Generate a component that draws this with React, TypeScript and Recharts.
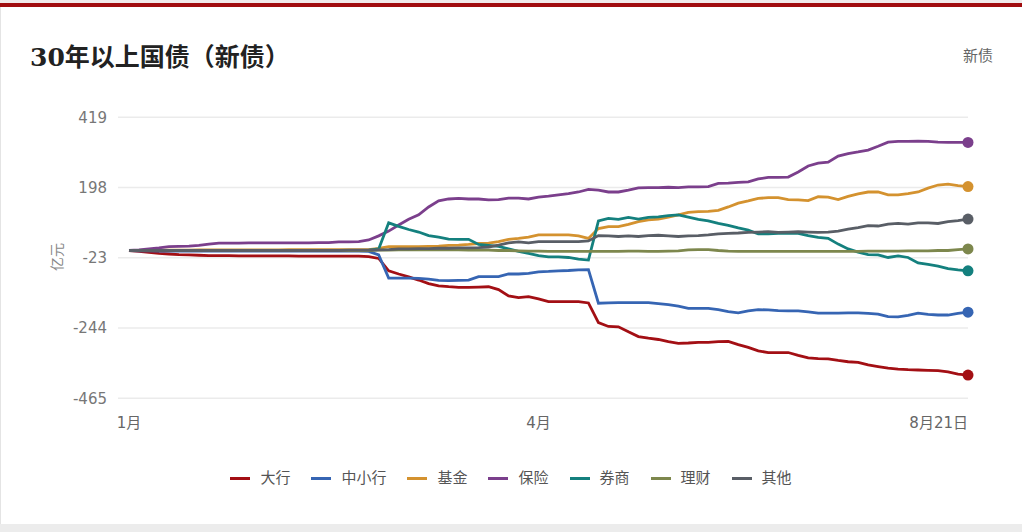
import React from 'react';
import { LineChart, Line, XAxis, YAxis, CartesianGrid } from 'recharts';

// 30年以上国债（新债）各类机构累计净买入，单位：亿元
const seriesNames = ['大行', '中小行', '基金', '保险', '券商', '理财', '其他'];
const seriesColors = ['#a30f14', '#3665b3', '#d4922f', '#7b3f8c', '#14807e', '#7d874d', '#595e66'];

const bigBanks = [
  0, -3, -6, -9, -11, -13, -14, -15, -16, -16,
  -16, -17, -17, -17, -17, -17, -17, -18, -18, -18, -18, -18, -18, -18, -19,
  -25,
  -64, -74, -83, -93, -104, -111, -114, -116, -116, -115, -114, -123, -143, -148, -145, -152, -161, -161, -161, -161, -165,
  -227, -239, -240, -256, -271, -276, -280, -287, -292, -291, -289, -289, -287, -286, -296, -305, -316, -321, -321, -321,
  -330, -338, -340, -341, -346, -350, -352, -360, -365, -370, -373, -375, -376, -377, -378, -382, -389, -392,
];
const smallBanks = [
  0, -1, -1, -2, -2, -2, -2, -2, -2, -2, -2, -2, -2, -2, -2, -2, -2, -2, -2, -2, -2, -2, -2, -2, -3,
  -14,
  -87, -87, -87, -88, -90, -94, -95, -94, -93, -82, -82, -82, -74, -74, -72, -67, -66, -64, -63, -61, -60,
  -166, -165, -164, -164, -164, -164, -167, -170, -175, -182, -182, -182, -186, -192, -196, -190, -186, -187, -189, -190,
  -190, -193, -197, -197, -197, -196, -196, -198, -200, -208, -209, -204, -197, -201, -203, -203, -198, -194,
];
const funds = [
  0, 0, 1, 1, 1, 1, 1, 2, 2, 2, 2, 2, 2, 2, 2, 2, 3, 3, 3, 3, 3, 3, 3, 3, 3,
  7,
  12, 12, 12, 12, 13, 14, 16, 17, 19, 22, 23, 28, 35, 38, 42, 49, 49, 49, 49, 46, 38,
  69, 75, 75, 82, 91, 96, 99, 105, 112, 120, 122, 123, 126, 137, 149, 156, 164, 166, 166, 160,
  159, 157, 169, 168, 160, 170, 178, 184, 184, 175, 175, 179, 184, 196, 206, 209, 204, 201,
];
const insurance = [
  0, 2, 5, 8, 12, 13, 14, 16, 20, 23, 23, 23, 24, 24, 24, 24, 24, 24, 24, 25, 25, 27, 27, 28, 33,
  46,
  61, 80, 98, 112, 137, 156, 162, 164, 162, 162, 159, 160, 165, 165, 162, 168, 171, 175, 179, 184, 192,
  190, 184, 184, 190, 197, 198, 198, 199, 198, 200, 200, 201, 211, 212, 214, 216, 225, 230, 230, 231,
  247, 266, 275, 278, 297, 305, 310, 316, 328, 341, 343, 343, 344, 343, 341, 340, 340, 340,
];
const brokers = [
  0, 0, 0, 0, 0, 0, 0, 0, 0, 0, 0, 0, 0, 0, 0, 0, 0, 0, 0, 0, 0, 0, 0, 0, 1,
  5,
  87, 76, 66, 58, 47, 42, 36, 35, 35, 19, 16, 13, 5, -3, -9, -16, -20, -20, -22, -27, -30,
  93, 101, 98, 104, 99, 104, 106, 110, 112, 105, 98, 93, 85, 79, 71, 64, 52, 52, 54, 54,
  54, 47, 41, 38, 20, 5, -5, -13, -14, -22, -17, -22, -39, -44, -49, -57, -61, -64,
];
const wealth = [
  0, 0, 0, 0, 0, 0, 0, 0, 0, 0, 0, 0, 0, 0, 0, 0, 0, 0, 0, 0, 0, 0, 0, 0, 0,
  1,
  1, 2, 2, 2, 2, 2, 2, 2, 1, 1, 1, 0, 0, -1, -2, -2, -3, -3, -3, -3, -3,
  -3, -3, -3, -2, -2, -3, -3, -2, -1, 2, 3, 3, 0, -2, -3, -3, -3, -3, -3, -3,
  -3, -3, -3, -3, -3, -3, -3, -2, -2, -2, -2, -1, -1, -1, 0, 0, 3, 5,
];
const others = [
  0, 0, 0, 0, 0, 0, 0, 0, 0, 0, 0, 0, 0, 0, 0, 0, 0, 0, 0, 0, 0, 0, 1, 1, 1,
  2,
  3, 5, 5, 6, 6, 7, 7, 8, 8, 9, 11, 17, 24, 27, 24, 28, 28, 28, 28, 28, 30,
  47, 46, 44, 46, 44, 47, 48, 46, 44, 46, 47, 49, 52, 54, 55, 57, 58, 59, 57, 58,
  59, 58, 57, 58, 61, 67, 72, 78, 77, 83, 85, 83, 87, 87, 85, 91, 94, 99,
];

const yTicks = [-465, -244, -23, 198, 419];
const xTickIdx = [0, 41, 84];
const xTickLabels = ['1月', '4月', '8月21日'];

const allSeries = [bigBanks, smallBanks, funds, insurance, brokers, wealth, others];
const lastIdx = bigBanks.length - 1;

const data = bigBanks.map((_, i) => {
  const row: Record<string, number> = { i };
  seriesNames.forEach((name, k) => {
    row[name] = allSeries[k][i];
  });
  return row;
});

const FONT = "'Liberation Sans', 'Noto Sans CJK SC', sans-serif";
const TICK_FONT = "'DejaVu Sans', 'Noto Sans CJK SC', sans-serif";

const XTick = (props: any) => {
  const { x, y, payload } = props;
  const k = xTickIdx.indexOf(payload.value);
  const anchor = payload.value === lastIdx ? 'end' : 'middle';
  return (
    <text x={x} y={y} dy="0.71em" textAnchor={anchor} fill="#666" fontSize={15} fontFamily={TICK_FONT}>
      {xTickLabels[k]}
    </text>
  );
};

const endDot = (color: string) => (props: any) => {
  const { cx, cy, index } = props;
  if (index !== lastIdx) return <g key={`d-${index}`} />;
  return <circle key={`d-${index}`} cx={cx} cy={cy} r={5.5} fill={color} stroke="none" />;
};

const App: React.FC = () => {
  return (
    <div
      style={{
        position: 'absolute',
        left: 0,
        top: 0,
        width: 1022,
        height: 532,
        background: '#fff',
        overflow: 'hidden',
        fontFamily: FONT,
      }}
    >
      <div style={{ position: 'absolute', left: 0, top: 0, width: 1022, height: 3, background: '#f1eaea' }} />
      <div style={{ position: 'absolute', left: 0, top: 3, width: 1022, height: 4, background: '#a10d0f' }} />
      <div style={{ position: 'absolute', left: 0, top: 7, width: 1, height: 517, background: '#e4e4e4' }} />
      <div style={{ position: 'absolute', left: 0, top: 524, width: 1022, height: 8, background: '#ececec' }} />

      <div
        style={{
          position: 'absolute',
          left: 30,
          top: 45,
          fontSize: 25,
          lineHeight: '25px',
          fontWeight: 'bold',
          color: '#222',
          fontFamily: "'DejaVu Serif', 'Noto Sans CJK SC', serif",
          whiteSpace: 'nowrap',
        }}
      >
        30年以上国债（新债）
      </div>
      <div
        style={{
          position: 'absolute',
          right: 29,
          top: 46,
          fontSize: 15,
          lineHeight: '20px',
          color: '#666',
        }}
      >
        新债
      </div>

      <div
        style={{
          position: 'absolute',
          left: 37,
          top: 247,
          width: 40,
          lineHeight: '20px',
          textAlign: 'center',
          fontSize: 14,
          color: '#888',
          transform: 'rotate(-90deg)',
        }}
      >
        亿元
      </div>

      <div style={{ position: 'absolute', left: 0, top: 0 }}>
        <LineChart
          width={1022}
          height={460}
          data={data}
          margin={{ top: 117.3, right: 54, left: 58, bottom: 31.7 }}
        >
          <CartesianGrid vertical={false} stroke="#ebebeb" strokeWidth={1.5} />
          <XAxis
            dataKey="i"
            type="number"
            domain={[0, lastIdx]}
            ticks={xTickIdx}
            interval={0}
            axisLine={false}
            tickLine={false}
            tickMargin={13}
            padding={{ left: 11, right: 0 }}
            tick={<XTick />}
            height={30}
          />
          <YAxis
            domain={[-465, 419]}
            ticks={yTicks}
            interval={0}
            axisLine={false}
            tickLine={false}
            tickMargin={5}
            width={60}
            tick={{ fill: '#777', fontSize: 15, fontFamily: TICK_FONT }}
          />
          {seriesNames.map((name, k) => (
            <Line
              key={name}
              type="linear"
              dataKey={name}
              stroke={seriesColors[k]}
              strokeWidth={2.8}
              dot={endDot(seriesColors[k])}
              activeDot={false}
              isAnimationActive={false}
            />
          ))}
        </LineChart>
      </div>

      <div
        style={{
          position: 'absolute',
          left: 0,
          top: 468,
          width: 1022,
          display: 'flex',
          justifyContent: 'center',
          fontSize: 15,
          lineHeight: '20px',
          color: '#555',
        }}
      >
        {seriesNames.map((name, k) => (
          <div
            key={name}
            style={{
              display: 'flex',
              alignItems: 'center',
              marginRight: k === seriesNames.length - 1 ? 0 : 21,
            }}
          >
            <span style={{ display: 'inline-block', width: 20, height: 3, background: seriesColors[k], marginRight: 10 }} />
            <span>{name}</span>
          </div>
        ))}
      </div>
    </div>
  );
};

export default App;
